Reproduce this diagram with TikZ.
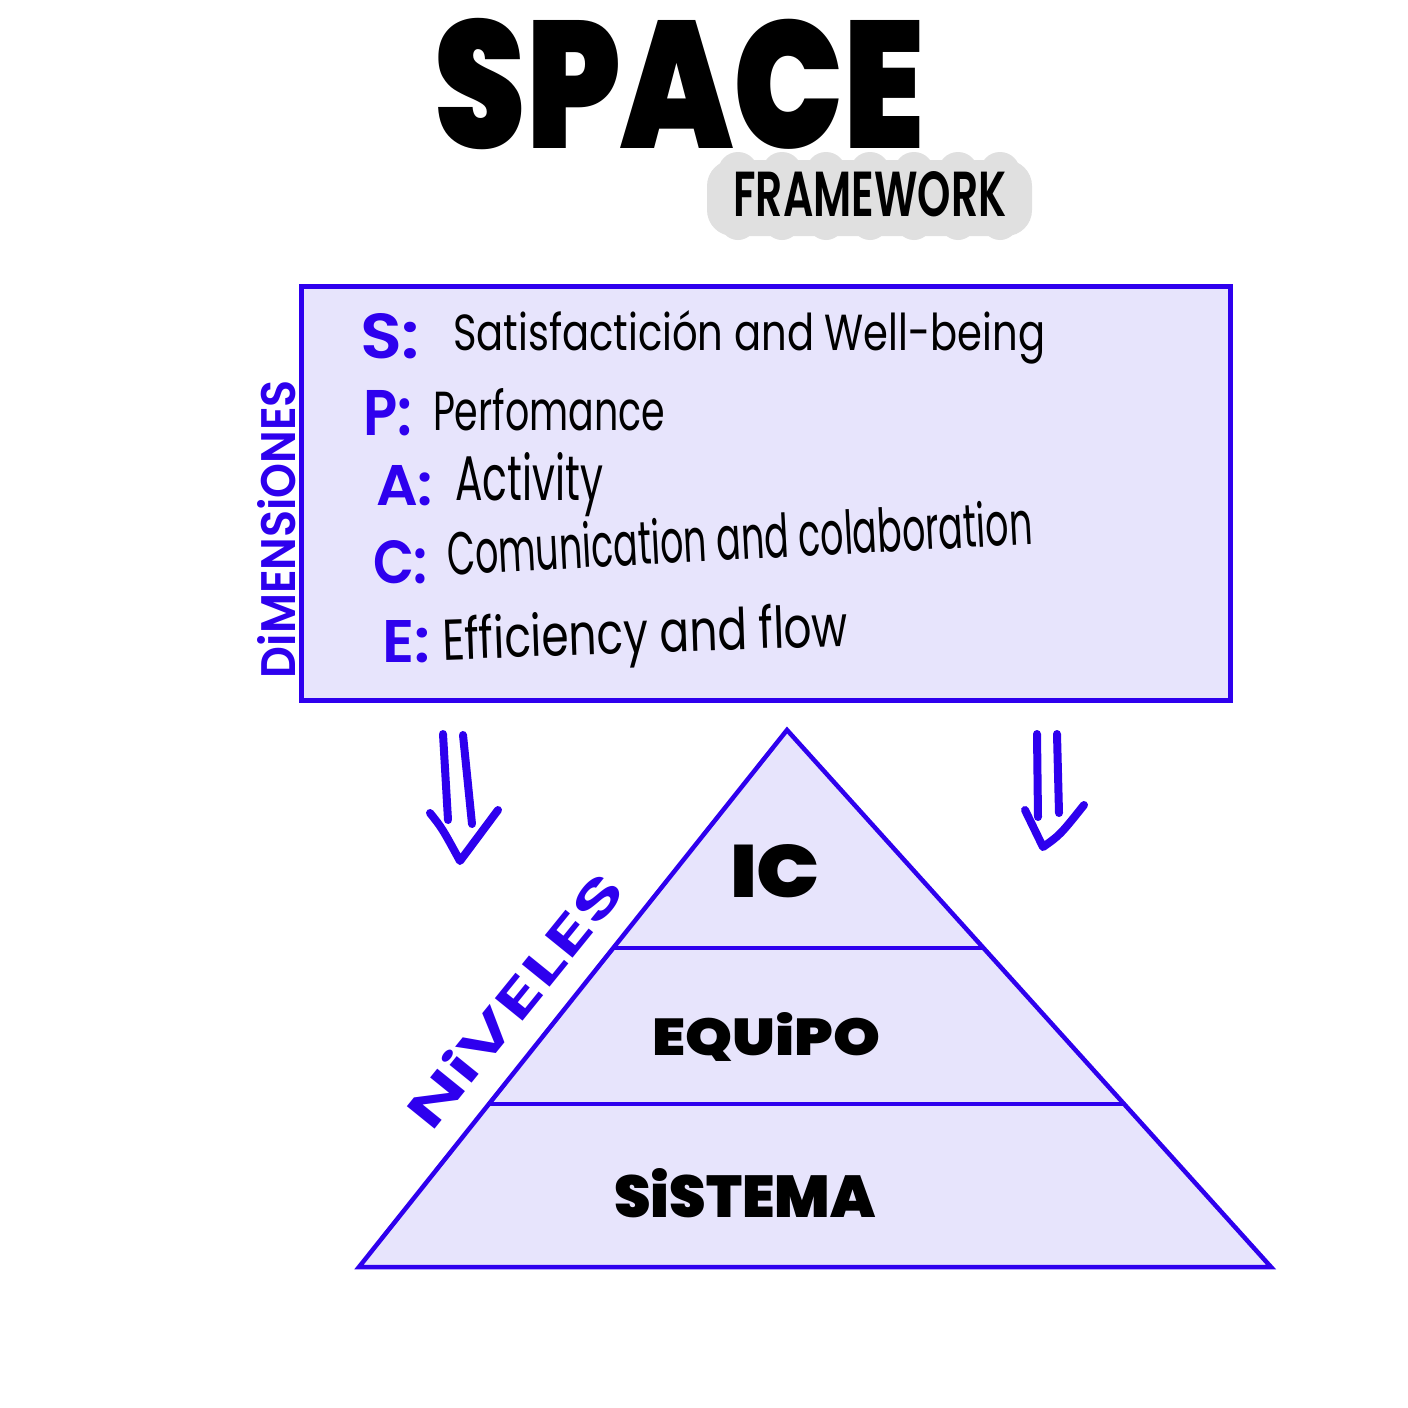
\documentclass[tikz,border=0pt]{standalone}
\usepackage{fontspec}
\usepackage{graphicx}
\usetikzlibrary{calc}
\newfontfamily\hand{Poppins}
\newfontfamily\heavy{Poppins Black}
\newfontfamily\marker{Poppins SemiBold}
\definecolor{ink}{RGB}{46,0,238}
\definecolor{lav}{RGB}{231,228,252}
\definecolor{cloudgray}{RGB}{224,224,224}
% scale a piece of text to a given width and height (in pt)
\newcommand\fitto[3]{\resizebox{#1pt}{#2pt}{#3}}
\begin{document}
\begin{tikzpicture}[x=1pt,y=-1pt]
\tikzset{
  frame/.style={draw=ink, line width=4.5pt, fill=lav, line join=miter},
  tier/.style={draw=ink, line width=4.2pt},
  shaft/.style={draw=ink, line width=8pt, line cap=round, line join=round},
  lbl/.style={inner sep=0pt, outer sep=0pt},
  bluetxt/.style={lbl, text=ink, font=\marker},
  handtxt/.style={lbl, text=black, font=\hand},
  heavytxt/.style={lbl, text=black, font=\heavy},
}
\fill[white] (0,0) rectangle (1408,1408);
\useasboundingbox (0,0) rectangle (1408,1408);

% ---- title ----
\node[heavytxt] (title) at (680,84) {\fitto{490}{130}{SPACE}};
\begin{scope}[fill=cloudgray]
  \fill[rounded corners=26pt] (707,160) rectangle (1032,236);
  \foreach \cx in {738,782,826,870,914,958,1000}{
    \fill (\cx,172) circle (20);
    \fill (\cx,222) circle (18);
  }
\end{scope}
\node[lbl, font=\marker] (sub) at (870,194) {\fitto{273}{45}{FRAMEWORK}};

% ---- dimensions box ----
\node[frame, minimum width=929pt, minimum height=414pt, anchor=north west] (dims) at (299,284) {};
\node[bluetxt, rotate=90] (dimlabel) at (277,529) {\fitto{298}{38}{DiMENSiONES}};

\node[bluetxt, anchor=base west] (kS) at (360,358) {\fitto{60}{45}{S:}};
\node[handtxt, anchor=base west] (tS) at (453,350) {\fitto{592}{40}{Satisfactición and Well-being}};

\node[bluetxt, anchor=base west] (kP) at (363,435) {\fitto{49}{45}{P:}};
\node[handtxt, anchor=base west] (tP) at (433,430) {\fitto{232}{42}{Perfomance}};

\node[bluetxt, anchor=base west] (kA) at (376,505) {\fitto{57}{40}{A:}};
\node[handtxt, anchor=base west] (tA) at (455,500) {\fitto{148}{48}{Activity}};

\node[bluetxt, anchor=base west] (kC) at (373,583) {\fitto{55}{43}{C:}};
\node[handtxt, anchor=base west, rotate=3] (tC) at (448,575) {\fitto{586}{46}{Comunication and colaboration}};

\node[bluetxt, anchor=base west] (kE) at (382,662) {\fitto{48}{42}{E:}};
\node[handtxt, anchor=base west, rotate=2] (tE) at (443,660) {\fitto{406}{44}{Efficiency and flow}};

% ---- pyramid of levels ----
\coordinate (apex) at (787,730);
\coordinate (bl) at (359,1267);
\coordinate (br) at (1271,1267);
\filldraw[frame] (apex) -- (br) -- (bl) -- cycle;
\coordinate (t1l) at ($(apex)!0.406!(bl)$);
\coordinate (t1r) at ($(apex)!0.406!(br)$);
\coordinate (t2l) at ($(apex)!0.6965!(bl)$);
\coordinate (t2r) at ($(apex)!0.6965!(br)$);
\draw[tier] (t1l) -- (t1r);
\draw[tier] (t2l) -- (t2r);

\node[heavytxt] (ic) at (775,871) {\fitto{90}{53}{IC}};
\node[heavytxt, anchor=base] (team) at (766,1055) {\fitto{228}{43}{EQUiPO}};
\node[heavytxt, anchor=base] (sys) at (745,1217) {\fitto{261}{49}{SiSTEMA}};
\node[bluetxt, rotate=51] (levlabel) at (514,1000) {\fitto{312}{40}{NiVELES}};

% ---- double arrows from the box ----
\coordinate (la1) at (443,734); \coordinate (la1e) at (448,820);
\coordinate (la2) at (463,735); \coordinate (la2e) at (472,824);
\coordinate (lv1) at (430,813); \coordinate (lvb) at (460,861); \coordinate (lv2) at (498,810);
\draw[shaft] (la1) -- (la1e);
\draw[shaft] (la2) -- (la2e);
\draw[shaft] (lv1) .. controls (442,828) .. (lvb) -- (lv2);

\coordinate (ra1) at (1037,734); \coordinate (ra1e) at (1038,817);
\coordinate (ra2) at (1057,734); \coordinate (ra2e) at (1059,813);
\coordinate (rv1) at (1025,810); \coordinate (rvb) at (1043,847); \coordinate (rv2) at (1084,805);
\draw[shaft] (ra1) -- (ra1e);
\draw[shaft] (ra2) -- (ra2e);
\draw[shaft] (rv1) -- (rvb) .. controls (1060,835) .. (rv2);
\end{tikzpicture}
\end{document}
